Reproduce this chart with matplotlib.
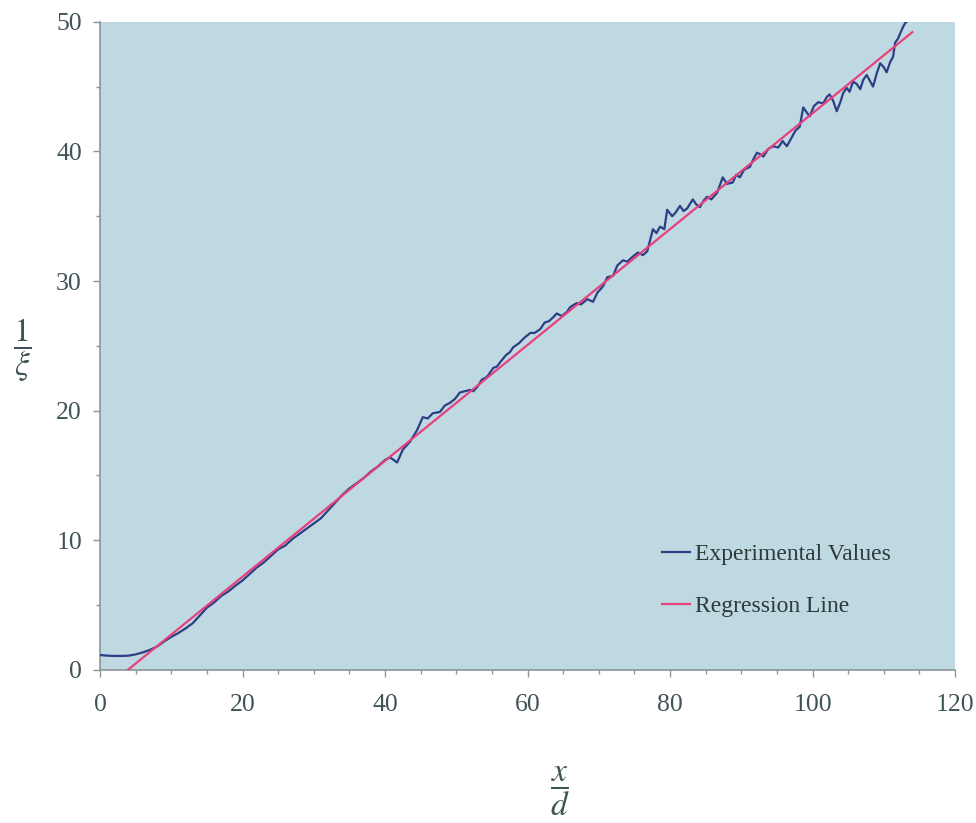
import matplotlib
matplotlib.use("Agg")
import matplotlib.pyplot as plt
from matplotlib.ticker import MultipleLocator

plt.rcParams['font.family'] = ['Liberation Serif', 'DejaVu Serif']
plt.rcParams['mathtext.fontset'] = 'stix'

# 实验值 (x/d, 1/xi)
exp_x = [0, 1, 2, 3, 4, 5, 6, 7, 8, 9, 10, 11, 12, 13, 14, 15, 16, 17, 18, 19,
         20, 21, 22, 23, 24, 25, 26, 27, 28, 29, 30, 31, 32, 33, 34, 35, 36, 37, 38, 39,
         40, 40.7, 41.2, 41.7, 42.5, 43.5, 44.5, 45.3, 46.0, 46.7, 47.7, 48.4, 49.1, 49.8,
         50.5, 51.2, 51.9, 52.4, 52.9, 53.6, 54.3, 55.2, 55.7, 56.1, 57.0, 57.5, 58.0, 58.8,
         59.5, 60.4, 61.0, 61.8, 62.4, 63.0, 63.6, 64.1, 64.8, 65.5, 66.0, 66.9, 67.5, 68.4,
         69.2, 69.8, 70.6, 71.2, 72.0, 72.6, 73.4, 74.0, 74.8, 75.5, 76.2, 76.8, 77.6, 78.1,
         78.6, 79.2, 79.6, 80.3, 80.8, 81.4, 81.9, 82.4, 83.2, 83.7, 84.2, 84.7, 85.2, 85.8,
         86.6, 87.4, 88.0, 88.8, 89.3, 89.8, 90.4, 91.2, 91.7, 92.2, 92.6, 93.1, 93.8, 94.5,
         95.2, 95.8, 96.4, 97.0, 97.6, 98.2, 98.7, 99.2, 99.6, 100.2, 100.8, 101.5, 102.0,
         102.4, 102.9, 103.4, 103.9, 104.3, 104.8, 105.2, 105.7, 106.2, 106.7, 107.1, 107.6,
         108.0, 108.5, 109.0, 109.5, 110.0, 110.4, 110.9, 111.3, 111.6, 112.0, 112.3, 112.7,
         113.0, 113.4, 113.6]
exp_y = [1.15, 1.1, 1.08, 1.08, 1.1, 1.2, 1.35, 1.55, 1.8, 2.2, 2.55, 2.85, 3.2, 3.6, 4.2,
         4.8, 5.2, 5.7, 6.05, 6.5, 6.9, 7.4, 7.9, 8.3, 8.8, 9.3, 9.6, 10.1, 10.5, 10.9, 11.3,
         11.7, 12.3, 12.9, 13.5, 14.0, 14.4, 14.8, 15.3, 15.7, 16.2, 16.4, 16.2, 16.0, 17.0,
         17.6, 18.5, 19.5, 19.4, 19.8, 19.9, 20.4, 20.6, 20.9, 21.4, 21.5, 21.6, 21.5, 21.8,
         22.4, 22.6, 23.3, 23.4, 23.7, 24.3, 24.5, 24.9, 25.2, 25.6, 26.0, 26.0, 26.3, 26.8,
         26.9, 27.2, 27.5, 27.3, 27.6, 28.0, 28.3, 28.2, 28.6, 28.4, 29.1, 29.6, 30.3, 30.4,
         31.2, 31.6, 31.5, 31.9, 32.2, 32.0, 32.3, 34.0, 33.7, 34.2, 34.0, 35.5, 35.0, 35.3,
         35.8, 35.4, 35.6, 36.3, 35.9, 35.7, 36.2, 36.5, 36.3, 36.8, 38.0, 37.5, 37.6, 38.2,
         38.0, 38.6, 38.8, 39.4, 39.9, 39.8, 39.6, 40.2, 40.4, 40.3, 40.8, 40.4, 41.0, 41.6,
         41.9, 43.4, 43.0, 42.7, 43.5, 43.8, 43.7, 44.2, 44.4, 43.9, 43.1, 43.8, 44.5, 44.9,
         44.6, 45.4, 45.2, 44.8, 45.5, 45.9, 45.5, 45.0, 46.0, 46.8, 46.5, 46.1, 46.9, 47.3,
         48.4, 48.7, 49.1, 49.6, 49.9, 50.1, 50.5]

# 回归直线端点
reg_x = [3.9, 114.0]
reg_y = [0.0, 49.2]

x_ticks = [0, 20, 40, 60, 80, 100, 120]
y_ticks = [0, 10, 20, 30, 40, 50]

text_color = '#3f5456'
axis_color = '#8a9698'

fig = plt.figure(figsize=(9.76, 8.23), dpi=100, facecolor='white')
ax = fig.add_axes([0.1025, 0.186, 0.876, 0.7875])
ax.set_facecolor('#bfd9e3')

ax.plot(exp_x, exp_y, color='#2b3f85', lw=1.6, label='Experimental Values', zorder=3)
ax.plot(reg_x, reg_y, color='#e8407c', lw=1.6, label='Regression Line', zorder=4)

ax.set_xlim(0, 120)
ax.set_ylim(0, 50)
ax.set_xticks(x_ticks)
ax.set_yticks(y_ticks)
ax.xaxis.set_minor_locator(MultipleLocator(5))
ax.yaxis.set_minor_locator(MultipleLocator(5))

for s in ['top', 'right']:
    ax.spines[s].set_visible(False)
for s in ['left', 'bottom']:
    ax.spines[s].set_color(axis_color)
    ax.spines[s].set_linewidth(1.2)

ax.tick_params(axis='both', which='major', direction='out', length=5, width=1,
               color=axis_color, labelcolor=text_color, labelsize=18.5)
ax.tick_params(axis='both', which='minor', direction='out', length=3, width=1,
               color=axis_color)
ax.tick_params(axis='x', which='major', pad=12)
ax.tick_params(axis='y', which='major', pad=8)

# 坐标轴标题
fig.text(0.023, 0.574, r'$\dfrac{1}{\xi}$', fontsize=24, color=text_color,
         ha='center', va='center')
fig.text(0.574, 0.039, r'$\dfrac{x}{d}$', fontsize=24, color=text_color,
         ha='center', va='center')

leg = ax.legend(loc='upper left', bbox_to_anchor=(0.632, 0.228), frameon=False,
                fontsize=17, handlelength=1.2, handletextpad=0.2, labelspacing=1.3)
for t in leg.get_texts():
    t.set_color('#2c3a3a')

fig.savefig('out.png', dpi=100, facecolor='white')
